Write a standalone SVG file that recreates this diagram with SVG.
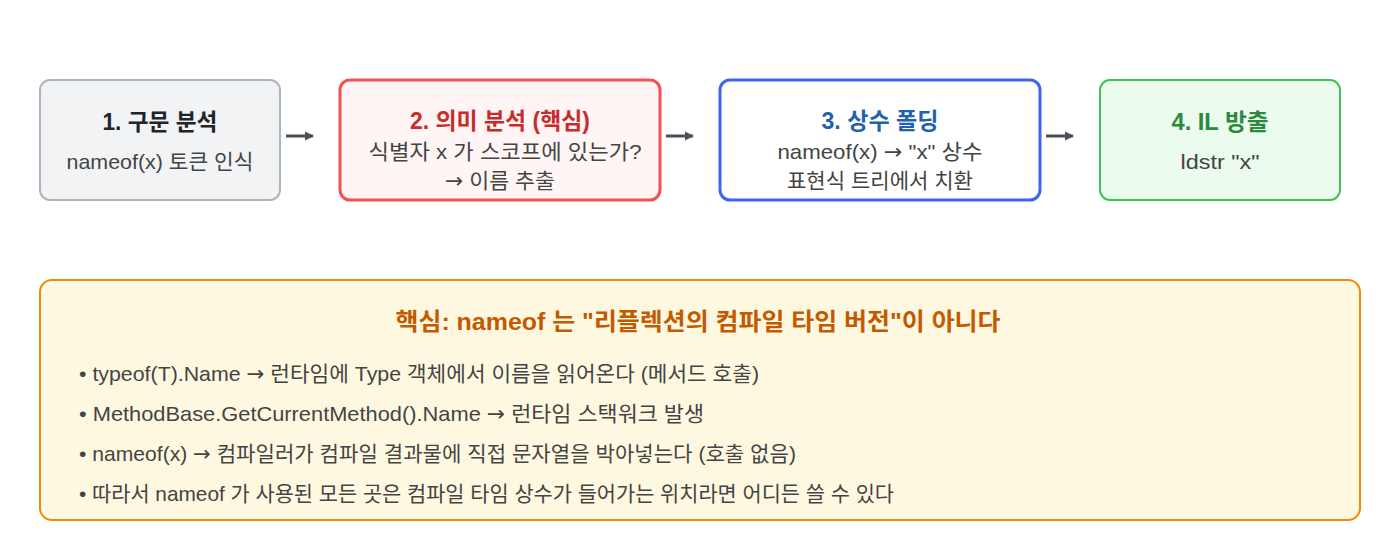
<svg xmlns="http://www.w3.org/2000/svg" width="1400" height="560" viewBox="0 0 1400 560">
  <defs>
    <style>
      text { font-family: "Liberation Sans", "Noto Sans CJK KR", sans-serif; }
      .title { font-size: 23px; font-weight: bold; text-anchor: middle; }
      .sub { font-size: 21px; fill: #444; text-anchor: middle; }
      .bullet { font-size: 21px; fill: #444; }
      .ar { font-family: "DejaVu Sans", sans-serif; font-size: 21px; }
      .conn { stroke: #495057; stroke-width: 3; fill: none; marker-end: url(#ah); }
    </style>
    <marker id="ah" viewBox="0 0 10 10" refX="9" refY="5" markerWidth="3" markerHeight="4" orient="auto" markerUnits="strokeWidth">
      <path d="M0,0 L10,5 L0,10 Z" fill="#495057"/>
    </marker>
  </defs>
  <rect width="1400" height="560" fill="#ffffff"/>

  <g id="node1">
    <rect x="40" y="80" width="240" height="120" rx="10" fill="#f1f3f5" stroke="#adb5bd" stroke-width="2"/>
    <text class="title" x="160" y="130" fill="#212529" textLength="115" lengthAdjust="spacingAndGlyphs">1. 구문 분석</text>
    <text class="sub" x="160" y="169" textLength="187" lengthAdjust="spacingAndGlyphs">nameof(x) 토큰 인식</text>
  </g>

  <g id="node2">
    <rect x="340" y="80" width="320" height="120" rx="10" fill="#fff5f5" stroke="#f25252" stroke-width="3"/>
    <text class="title" x="500" y="129" fill="#c92a2a" textLength="180" lengthAdjust="spacingAndGlyphs">2. 의미 분석 (핵심)</text>
    <text class="sub" x="505" y="159" textLength="273" lengthAdjust="spacingAndGlyphs">식별자 x 가 스코프에 있는가?</text>
    <text class="sub" x="500" y="188" textLength="110" lengthAdjust="spacingAndGlyphs"><tspan class="ar">→</tspan> 이름 추출</text>
  </g>

  <g id="node3">
    <rect x="720" y="80" width="320" height="120" rx="10" fill="#ffffff" stroke="#4263eb" stroke-width="3"/>
    <text class="title" x="880" y="129" fill="#1e62b0" textLength="117" lengthAdjust="spacingAndGlyphs">3. 상수 폴딩</text>
    <text class="sub" x="880" y="159" textLength="205" lengthAdjust="spacingAndGlyphs">nameof(x) <tspan class="ar">→</tspan> "x" 상수</text>
    <text class="sub" x="880" y="188" textLength="186" lengthAdjust="spacingAndGlyphs">표현식 트리에서 치환</text>
  </g>

  <g id="node4">
    <rect x="1100" y="80" width="240" height="120" rx="10" fill="#ebfbee" stroke="#40c057" stroke-width="2"/>
    <text class="title" x="1220" y="130" fill="#2b8a3e" textLength="97" lengthAdjust="spacingAndGlyphs">4. IL 방출</text>
    <text class="sub" x="1220" y="169" textLength="79" lengthAdjust="spacingAndGlyphs">ldstr "x"</text>
  </g>

  <g id="connectors">
    <path class="conn" d="M286,136 L313,136"/>
    <path class="conn" d="M666,136 L693,136"/>
    <path class="conn" d="M1046,136 L1073,136"/>
  </g>

  <g id="summary">
    <rect x="40" y="280" width="1320" height="240" rx="12" fill="#fff8e1" stroke="#f08c00" stroke-width="2"/>
    <text x="698" y="330" font-size="24" font-weight="bold" fill="#c35a00" text-anchor="middle" textLength="605" lengthAdjust="spacingAndGlyphs">핵심: nameof 는 "리플렉션의 컴파일 타임 버전"이 아니다</text>
    <text class="bullet" x="79" y="381" textLength="680" lengthAdjust="spacingAndGlyphs">• typeof(T).Name <tspan class="ar">→</tspan> 런타임에 Type 객체에서 이름을 읽어온다 (메서드 호출)</text>
    <text class="bullet" x="79" y="421" textLength="625" lengthAdjust="spacingAndGlyphs">• MethodBase.GetCurrentMethod().Name <tspan class="ar">→</tspan> 런타임 스택워크 발생</text>
    <text class="bullet" x="79" y="461" textLength="717" lengthAdjust="spacingAndGlyphs">• nameof(x) <tspan class="ar">→</tspan> 컴파일러가 컴파일 결과물에 직접 문자열을 박아넣는다 (호출 없음)</text>
    <text class="bullet" x="79" y="501" textLength="815" lengthAdjust="spacingAndGlyphs">• 따라서 nameof 가 사용된 모든 곳은 컴파일 타임 상수가 들어가는 위치라면 어디든 쓸 수 있다</text>
  </g>
</svg>
